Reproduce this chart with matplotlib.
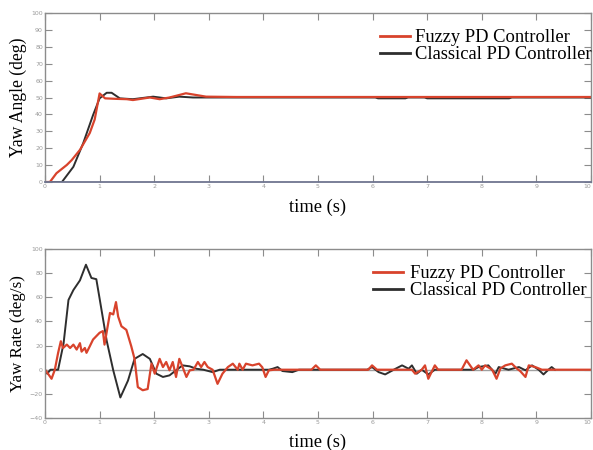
import matplotlib
matplotlib.use("Agg")
import matplotlib.pyplot as plt
from matplotlib.lines import Line2D
import numpy as np

# ---- data: yaw angle (deg)
ang_fuzzy_t = [0, 0.09, 0.21, 0.40, 0.49, 0.64, 0.82, 0.91, 1.0, 1.1, 1.3, 1.5, 1.61, 1.92, 2.1, 2.28,
               2.58, 2.95, 3.5, 10]
ang_fuzzy_v = [0, 0, 5.2, 10.1, 13, 19, 29, 37, 52.4, 49.5, 49.2, 49, 48.5, 50, 49, 50,
               52.5, 50.5, 50.3, 50.3]
ang_class_t = [0, 0.31, 0.52, 0.70, 0.88, 1.0, 1.13, 1.22, 1.37, 1.61, 1.98, 2.22, 2.46, 2.71,
               6.05, 6.1, 6.6, 6.65, 6.95, 7.0, 8.5, 8.55, 10]
ang_class_v = [0, 0, 9, 23, 39.6, 49.5, 52.8, 52.8, 49.5, 49, 50.5, 49.5, 50.5, 50,
               50, 49.5, 49.5, 50, 50, 49.5, 49.5, 50, 50]

# ---- data: yaw rate (deg/s)
rate_fuzzy_t = [0, 0.05, 0.12, 0.18, 0.24, 0.29, 0.33, 0.40, 0.46, 0.52, 0.58, 0.64, 0.67, 0.73,
                0.76, 0.82, 0.88, 1.0, 1.06, 1.09, 1.19, 1.25, 1.30, 1.34, 1.40, 1.49, 1.58,
                1.64, 1.70, 1.79, 1.88, 1.95, 2.01, 2.10, 2.16, 2.22, 2.28, 2.34, 2.40, 2.46,
                2.52, 2.59, 2.65, 2.72, 2.80, 2.86, 2.92, 2.98, 3.07, 3.16, 3.25, 3.35, 3.44,
                3.53, 3.56, 3.62, 3.68, 3.80, 3.92, 3.98, 4.04, 4.10, 4.20, 4.88, 4.96, 5.04,
                5.92, 5.99, 6.08, 6.72, 6.78, 6.90, 6.96, 7.02, 7.14, 7.20, 7.63, 7.72, 7.84,
                7.94, 8.0, 8.06, 8.19, 8.27, 8.34, 8.43, 8.55, 8.64, 8.70, 8.80, 8.86, 8.98,
                9.10, 10]
rate_fuzzy_v = [0, -3, -7.5, 0, 13.9, 23.6, 18, 20.8, 18, 20.8, 16.7, 22, 15, 18,
                14, 19.4, 25, 30.6, 32, 20.8, 47, 45.8, 56, 44, 36, 33, 19.4,
                9, -14.4, -17, -16, 5, -3.3, 9, 2.2, 6.4, -0.5, 6.4, -6, 9,
                2.2, -6, -0.5, 0, 6.4, 2.2, 6.4, 2.2, 0, -11.7, -3.3, 2.2, 5,
                0, 5, 0, 5, 3.6, 5, 2, -6, -0.5, 0, 0, 3.6, 0,
                0, 3.6, 0, 0, -3.3, 0, 3.6, -7.5, 3.6, 0, 0, 7.8, 0,
                3.6, 0, 3.6, 0, -7.5, 1, 3.6, 5, 1, -1, -6, 3.6, 2.2,
                0, 0]
rate_class_t = [0, 0.04, 0.10, 0.24, 0.34, 0.43, 0.52, 0.64, 0.75, 0.85, 0.94, 1.0, 1.13, 1.25,
                1.38, 1.52, 1.64, 1.79, 1.92, 2.04, 2.16, 2.28, 2.40, 2.52, 2.65, 2.77, 2.9,
                3.07, 3.2, 4.1, 4.17, 4.26, 4.35, 4.53, 4.65, 5.9, 5.99, 6.11, 6.23, 6.42,
                6.54, 6.66, 6.72, 6.81, 6.90, 7.02, 7.14, 7.85, 7.94, 8.12, 8.25, 8.31, 8.49,
                8.68, 8.80, 8.92, 9.04, 9.13, 9.22, 9.28, 9.34]
rate_class_v = [0, -3.3, 0, 0, 21.7, 57.8, 66, 74, 87, 76, 75, 59, 24, -0.5,
                -23, -9, 9, 13, 9, -3.3, -6, -4.7, -0.5, 3.6, 2.8, 0.8, 0,
                -2, 0, 0, 0.8, 2.2, -1.1, -2, 0, 0, 2.2, -2, -3.9, 0.8,
                3.6, 0.8, 3.6, -3.3, 0, -3.9, 0, 0, 2.2, 3.6, -3.3, 2.2, 0,
                2.2, -0.5, 3.6, 0, -3.9, 0, 2.2, 0]

x_ticks = list(range(0, 11))
ang_yticks = list(range(0, 101, 10))
rate_yticks = list(range(-40, 101, 20))

RED = "#d8432c"
BLACK = "#2e2e2e"
SPINE = "#8c8c8c"
SERIF = ["Liberation Serif", "DejaVu Serif"]

fig = plt.figure(figsize=(5.93, 4.5), dpi=100)
ax1 = fig.add_axes([45 / 593, 1 - 182 / 450, 546 / 593, 169 / 450])
ax2 = fig.add_axes([45 / 593, 1 - 418 / 450, 546 / 593, 169 / 450])


def style(ax, yticks, ylim):
    ax.set_xlim(0, 10)
    ax.set_ylim(*ylim)
    ax.set_xticks(x_ticks)
    ax.set_yticks(yticks)
    ax.tick_params(direction="in", length=5, width=0.8, color=SPINE,
                   labelsize=4.5, labelcolor="#9a9a9a", pad=1.5,
                   top=True, right=True)
    for s in ax.spines.values():
        s.set_color(SPINE)
        s.set_linewidth(1.0)
    # keep the last (10) tick label inside the figure
    last = ax.get_xticklabels()[-1]
    last.set_horizontalalignment("right")


style(ax1, ang_yticks, (0, 100))
ax1.spines["bottom"].set_color("#6f7590")
ax1.spines["bottom"].set_linewidth(1.3)
ax1.plot(ang_class_t, ang_class_v, color=BLACK, lw=1.4)
ax1.plot(ang_fuzzy_t, ang_fuzzy_v, color=RED, lw=1.6)
ax1.set_ylabel("Yaw Angle (deg)", family=SERIF, fontsize=12.7, labelpad=3)
ax1.set_xlabel("time (s)", family=SERIF, fontsize=13.3, labelpad=7)

style(ax2, rate_yticks, (-40, 100))
ax2.axhline(0, color="#a0a0a0", lw=1.0)
ax2.plot(rate_class_t, rate_class_v, color=BLACK, lw=1.4)
ax2.plot(rate_fuzzy_t, rate_fuzzy_v, color=RED, lw=1.6)
ax2.set_ylabel("Yaw Rate (deg/s)", family=SERIF, fontsize=12.2, labelpad=3)
ax2.set_xlabel("time (s)", family=SERIF, fontsize=13.3, labelpad=6)

handles = [Line2D([], [], color=RED, lw=2.0), Line2D([], [], color=BLACK, lw=2.0)]
labels = ["Fuzzy PD Controller", "Classical PD Controller"]
ax1.legend(handles, labels, loc="center left", bbox_to_anchor=(380 / 593, 1 - 46 / 450),
           bbox_transform=fig.transFigure, frameon=False, borderpad=0, borderaxespad=0,
           handlelength=1.6, handletextpad=0.3, labelspacing=0.0,
           prop={"family": SERIF, "size": 13.3})
ax2.legend(handles, labels, loc="center left", bbox_to_anchor=(373 / 593, 1 - 282 / 450),
           bbox_transform=fig.transFigure, frameon=False, borderpad=0, borderaxespad=0,
           handlelength=1.6, handletextpad=0.4, labelspacing=0.0,
           prop={"family": SERIF, "size": 13.3})

fig.savefig("out.png", dpi=100, facecolor="white")
